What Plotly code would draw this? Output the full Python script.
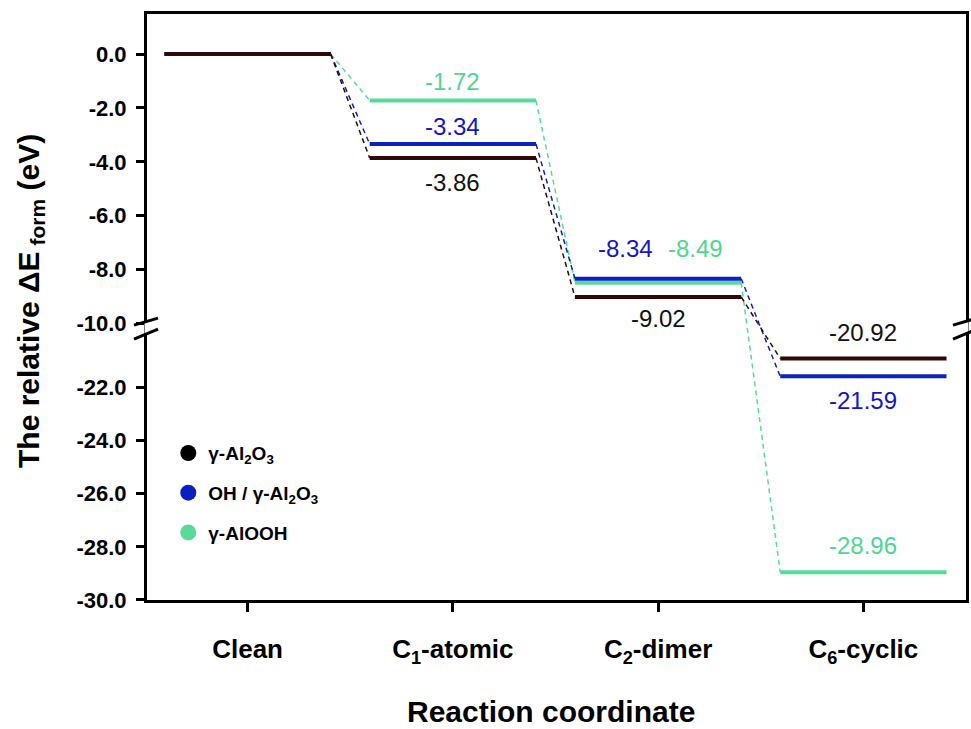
import plotly.graph_objects as go

# ---------------- data ----------------
categories = ["Clean", "C<sub>1</sub>-atomic", "C<sub>2</sub>-dimer", "C<sub>6</sub>-cyclic"]
al2o3 = [0.0, -3.86, -9.02, -20.92]
oh_al2o3 = [0.0, -3.34, -8.34, -21.59]
alooh = [0.0, -1.72, -8.49, -28.96]
series_names = ["γ-Al<sub>2</sub>O<sub>3</sub>", "OH / γ-Al<sub>2</sub>O<sub>3</sub>", "γ-AlOOH"]
top_ticks = [0, -2, -4, -6, -8, -10]
bottom_ticks = [-22, -24, -26, -28, -30]

# ---------------- styling ----------------
line_colors = {"al": "#300808", "oh": "#0a22c4", "ooh": "#55dc98"}
text_colors = {"al": "#111111", "oh": "#1414c8", "ooh": "#4fd68e"}
legend_colors = {"al": "#000000", "oh": "#0a1fbf", "ooh": "#5ad99a"}
FONT = "Arial, Liberation Sans, Helvetica, sans-serif"

TOP_RANGE = [-10, 1.49]
BOT_RANGE = [-30, -19.6]
SPLIT = 0.472
SHIFT = BOT_RANGE[1] - TOP_RANGE[0]   # pixel-continuous offset between the two panels
HALF = 0.405                          # half width of level segments (category units)


def to_top(v):
    return v if v >= TOP_RANGE[0] else v - SHIFT


def to_bot(v):
    return v if v <= BOT_RANGE[1] else v + SHIFT


fig = go.Figure()

series = [("ooh", alooh), ("oh", oh_al2o3), ("al", al2o3)]

for key, vals in series:
    sx, sy, cx, cy = [], [], [], []
    for i, v in enumerate(vals):
        sx += [i - HALF, i + HALF, None]
        sy += [v, v, None]
    for i in range(len(vals) - 1):
        cx += [i + HALF, i + 1 - HALF, None]
        cy += [vals[i], vals[i + 1], None]
    for xa, ya, conv in (("x", "y", to_top), ("x2", "y2", to_bot)):
        fig.add_trace(go.Scatter(
            x=cx, y=[None if c is None else conv(c) for c in cy], xaxis=xa, yaxis=ya,
            mode="lines", line=dict(color=line_colors[key], width=1.5, dash="5px,4px"),
            showlegend=False, hoverinfo="skip", connectgaps=False))
    for xa, ya, conv in (("x", "y", to_top), ("x2", "y2", to_bot)):
        fig.add_trace(go.Scatter(
            x=sx, y=[None if c is None else conv(c) for c in sy], xaxis=xa, yaxis=ya,
            mode="lines", line=dict(color=line_colors[key], width=4),
            showlegend=False, hoverinfo="skip", connectgaps=False))

# legend entries
for name, key in zip(series_names, ["al", "oh", "ooh"]):
    fig.add_trace(go.Scatter(
        x=[None], y=[None], xaxis="x2", yaxis="y2", mode="markers", name=name,
        legendgroup=key, marker=dict(size=22, color=legend_colors[key])))

# value labels: (key, values, index, xshift, yshift)
label_specs = [
    ("ooh", alooh, 1, 0, 19),
    ("oh", oh_al2o3, 1, 0, 18),
    ("al", al2o3, 1, 0, -24),
    ("oh", oh_al2o3, 2, -33, 30),
    ("ooh", alooh, 2, 37, 34),
    ("al", al2o3, 2, 0, -21),
    ("al", al2o3, 3, 0, 26),
    ("oh", oh_al2o3, 3, 0, -24),
    ("ooh", alooh, 3, 0, 27),
]
annotations = []
for key, vals, i, xs, ys in label_specs:
    v = vals[i]
    top = v >= TOP_RANGE[0]
    annotations.append(dict(
        x=i, y=v, xref="x" if top else "x2", yref="y" if top else "y2",
        text=f"{v:.2f}", showarrow=False, xshift=xs, yshift=ys,
        xanchor="center", yanchor="middle",
        font=dict(family=FONT, size=24, color=text_colors[key])))

annotations.append(dict(
    x=-0.143, y=0.51, xref="paper", yref="paper", textangle=-90,
    xanchor="center", yanchor="middle",
    text="The relative ΔE<sub> form</sub> (eV)", showarrow=False,
    font=dict(family=FONT, size=30, color="black", weight="bold")))
annotations.append(dict(
    x=0.493, y=-0.19, xref="paper", yref="paper",
    xanchor="center", yanchor="middle",
    text="Reaction coordinate", showarrow=False,
    font=dict(family=FONT, size=30, color="black", weight="bold")))

# axis break marks
shapes = []
for xa in (0, 1):
    shapes.append(dict(type="rect", xref="paper", yref="paper", xsizemode="pixel", ysizemode="pixel",
                       xanchor=xa, yanchor=SPLIT, x0=-2.5, x1=2.5, y0=-10, y1=1.5,
                       fillcolor="white", line=dict(width=0)))
    shapes.append(dict(type="line", xref="paper", yref="paper", xsizemode="pixel", ysizemode="pixel",
                       xanchor=xa, yanchor=SPLIT, x0=-13, x1=11, y0=-1.7, y1=5.3,
                       line=dict(color="black", width=3)))
    shapes.append(dict(type="line", xref="paper", yref="paper", xsizemode="pixel", ysizemode="pixel",
                       xanchor=xa, yanchor=SPLIT, x0=-13, x1=11, y0=-15.7, y1=-5.7,
                       line=dict(color="black", width=3)))

xrange = [-0.49, 3.5]
tickfont = dict(family=FONT, size=22, color="black", weight="bold")

fig.update_layout(
    width=971, height=729,
    margin=dict(l=147, r=2, t=14, b=129),
    paper_bgcolor="white", plot_bgcolor="white",
    font=dict(family=FONT, color="black"),
    xaxis=dict(domain=[0, 1], anchor="y", range=xrange, showline=True, linewidth=3, linecolor="black",
               side="top", showticklabels=False, ticks="", showgrid=False, zeroline=False,
               matches="x2"),
    xaxis2=dict(domain=[0, 1], anchor="y2", range=xrange, showline=True, linewidth=3, linecolor="black",
                tickmode="array", tickvals=list(range(len(categories))), ticktext=categories,
                ticks="outside", ticklen=9, tickwidth=3, tickcolor="black",
                ticklabelstandoff=15,
                tickfont=dict(family=FONT, size=26, color="black", weight="bold"),
                showgrid=False, zeroline=False),
    yaxis=dict(domain=[SPLIT, 1], anchor="x", range=TOP_RANGE, showline=True, mirror=True, linewidth=3,
               linecolor="black", tickmode="array", tickvals=top_ticks,
               ticktext=[f"{t:.1f}" for t in top_ticks], ticks="outside", ticklen=8, tickwidth=3,
               tickcolor="black", tickfont=tickfont, ticklabelstandoff=5, showgrid=False, zeroline=False),
    yaxis2=dict(domain=[0, SPLIT], anchor="x2", range=BOT_RANGE, showline=True, mirror=True, linewidth=3,
                linecolor="black", tickmode="array", tickvals=bottom_ticks,
                ticktext=[f"{t:.1f}" for t in bottom_ticks], ticks="outside", ticklen=8, tickwidth=3,
                tickcolor="black", tickfont=tickfont, ticklabelstandoff=5, showgrid=False, zeroline=False),
    showlegend=True,
    legend=dict(x=0.026, y=0.283, xanchor="left", yanchor="top", bgcolor="rgba(0,0,0,0)",
                font=dict(family=FONT, size=19, color="black", weight="bold"),
                tracegroupgap=12, itemsizing="trace"),
    annotations=annotations,
    shapes=shapes,
)

fig.write_html("out.html", config={"displayModeBar": False},
               post_script="document.body.style.margin='0';document.body.style.padding='0';")
